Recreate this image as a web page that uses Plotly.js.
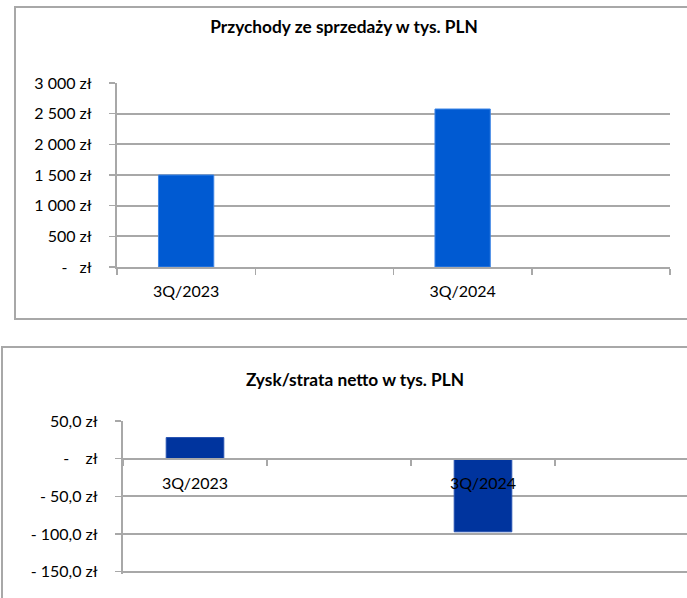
<!DOCTYPE html>
<html>
<head>
<meta charset="utf-8">
<script src="https://cdn.plot.ly/plotly-3.0.1.min.js"></script>
<style>
  html, body { margin: 0; padding: 0; background: #fff; width: 687px; height: 598px; overflow: hidden; }
  #wrap { position: relative; width: 687px; height: 598px; overflow: hidden; }
  .frame { position: absolute; border: 2px solid #a8a8a8; box-sizing: border-box; }
  .plot { position: absolute; left: 0; }
</style>
</head>
<body>
<div id="wrap">
  <div class="frame" style="left:14px; top:6px; width:720px; height:314px;"></div>
  <div class="frame" style="left:1px; top:346px; width:720px; height:300px;"></div>
  <div id="chart1" class="plot" style="top:0px; width:720px; height:330px;"></div>
  <div id="chart2" class="plot" style="top:330px; width:720px; height:268px;"></div>
</div>
<script>
// ---- data ----
const categories = ['3Q/2023', '3Q/2024'];
const axisSlots = ['3Q/2023', ' ', '3Q/2024', '  '];
const revenue = [1500, 2576];
const netProfit = [28, -97];

const revenueTickVals = [0, 500, 1000, 1500, 2000, 2500, 3000];
const revenueTickText = ['-\u00a0\u00a0\u00a0zł', '500 zł', '1 000 zł', '1 500 zł', '2 000 zł', '2 500 zł', '3 000 zł'];
const profitTickVals = [-150, -100, -50, 0, 50];
const profitTickText = ['- 150,0 zł', '- 100,0 zł', '- 50,0 zł', '-\u00a0\u00a0\u00a0\u00a0zł', '50,0 zł'];

const title1 = 'Przychody ze sprzedaży w tys. PLN';
const title2 = 'Zysk/strata netto w tys. PLN';

// ---- style ----
const FONT = 'Lato, "Open Sans", sans-serif';
const GRID = '#a8a8a8';
const cfg = { staticPlot: true, displayModeBar: false };

// ---- chart 1 ----
Plotly.newPlot('chart1', [{
  type: 'bar',
  x: categories,
  y: revenue,
  width: 0.4,
  marker: { color: '#005ad2', line: { color: '#3d85e6', width: 1 } },
  hoverinfo: 'skip'
}], {
  width: 720, height: 330,
  margin: { l: 116.7, r: 49.7, t: 83.3, b: 62.7 },
  paper_bgcolor: 'rgba(0,0,0,0)', plot_bgcolor: 'rgba(0,0,0,0)',
  font: { family: FONT, size: 16, color: '#000' },
  showlegend: false,
  title: {
    text: '<b>' + title1 + '</b>',
    font: { family: FONT, size: 17.3, color: '#000' },
    x: 344 / 720, xref: 'container', xanchor: 'center',
    y: 1 - 27 / 330, yref: 'container', yanchor: 'middle'
  },
  xaxis: {
    type: 'category', categoryorder: 'array', categoryarray: axisSlots,
    range: [-0.5, 3.5], tickson: 'boundaries',
    ticks: 'outside', ticklen: 6, tickwidth: 1.5, tickcolor: GRID,
    showline: true, linecolor: GRID, linewidth: 2,
    showgrid: false, zeroline: false,
    ticklabelstandoff: 9,
    tickfont: { family: FONT, size: 16, color: '#000' }
  },
  yaxis: {
    range: [0, 3000],
    tickvals: revenueTickVals, ticktext: revenueTickText,
    ticks: 'outside', ticklen: 6, tickwidth: 1.5, tickcolor: GRID,
    showline: true, linecolor: GRID, linewidth: 2,
    showgrid: true, gridcolor: GRID, gridwidth: 2,
    zeroline: false,
    ticklabelstandoff: 14,
    tickfont: { family: FONT, size: 16, color: '#000' }
  }
}, cfg);

// ---- chart 2 ----
Plotly.newPlot('chart2', [{
  type: 'bar',
  x: categories,
  y: netProfit,
  width: 0.4,
  marker: { color: '#00349e', line: { color: '#2450b0', width: 1 } },
  hoverinfo: 'skip'
}], {
  width: 720, height: 268,
  margin: { l: 122.7, r: 21.3, t: 90.7, b: 24.4 },
  paper_bgcolor: 'rgba(0,0,0,0)', plot_bgcolor: 'rgba(0,0,0,0)',
  font: { family: FONT, size: 16, color: '#000' },
  showlegend: false,
  title: {
    text: '<b>' + title2 + '</b>',
    font: { family: FONT, size: 17.3, color: '#000' },
    x: 355 / 720, xref: 'container', xanchor: 'center',
    y: 1 - 50 / 268, yref: 'container', yanchor: 'middle'
  },
  xaxis: {
    type: 'category', categoryorder: 'array', categoryarray: axisSlots,
    range: [-0.5, 3.5], tickson: 'boundaries',
    anchor: 'free', position: 153 / 203,
    ticks: 'outside', ticklen: 6, tickwidth: 1.5, tickcolor: GRID,
    showline: true, linecolor: GRID, linewidth: 2,
    showgrid: false, zeroline: false,
    ticklabelstandoff: 10,
    tickfont: { family: FONT, size: 16, color: '#000' }
  },
  yaxis: {
    range: [-153, 50],
    tickvals: profitTickVals, ticktext: profitTickText,
    ticks: 'outside', ticklen: 6, tickwidth: 1.5, tickcolor: GRID,
    showline: true, linecolor: GRID, linewidth: 2,
    showgrid: true, gridcolor: GRID, gridwidth: 2,
    zeroline: false,
    ticklabelstandoff: 14,
    tickfont: { family: FONT, size: 16, color: '#000' }
  }
}, cfg);
</script>
</body>
</html>
